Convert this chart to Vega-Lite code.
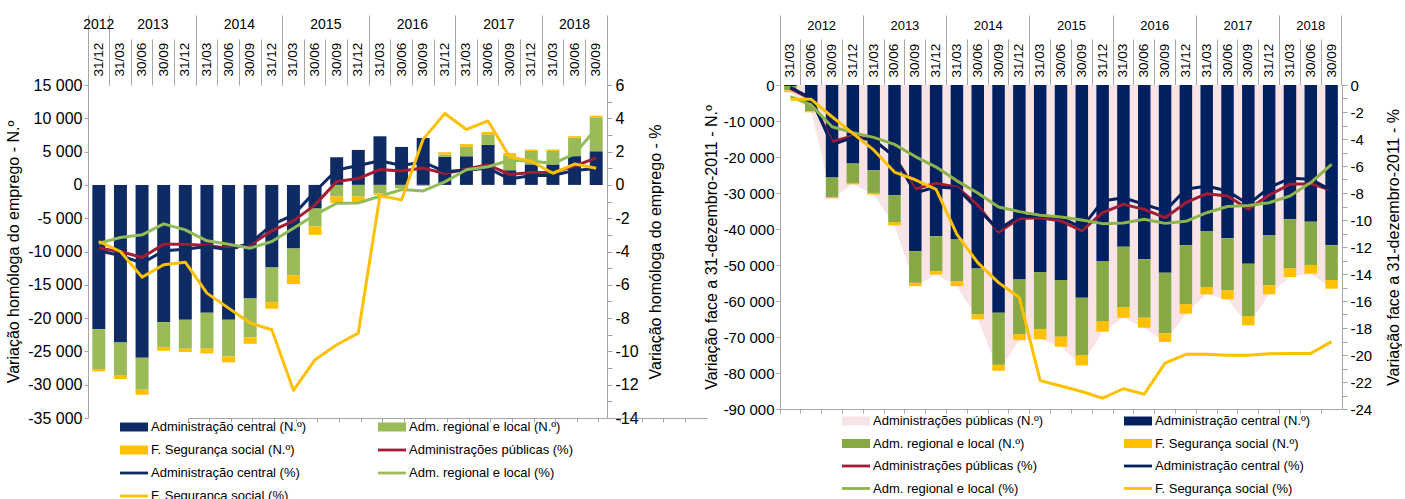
{
  "$schema": "https://vega.github.io/schema/vega-lite/v6.json",
  "background": "#ffffff",
  "padding": {"left": 5, "top": 14, "right": 0, "bottom": 0},
  "columns": 2,
  "align": "each",
  "spacing": -4,
  "datasets": {
    "series": [
      {"k": "ac", "s": "Administração central (N.º)"},
      {"k": "arl", "s": "Adm. regional e local (N.º)"},
      {"k": "fss", "s": "F. Segurança social  (N.º)"}
    ],
    "l": [
      {"q":"2012-12-31","ac":-21650,"arl":-6000,"fss":-350,"ap":-3.8,"acp":-3.96,"arlp":-3.5,"fssp":-3.4},
      {"q":"2013-03-31","ac":-23650,"arl":-5000,"fss":-500,"ap":-4.0,"acp":-4.24,"arlp":-3.16,"fssp":-4.0},
      {"q":"2013-06-30","ac":-25950,"arl":-4800,"fss":-750,"ap":-4.36,"acp":-4.7,"arlp":-3.0,"fssp":-5.54},
      {"q":"2013-09-30","ac":-20600,"arl":-3750,"fss":-550,"ap":-3.56,"acp":-3.96,"arlp":-2.34,"fssp":-4.8},
      {"q":"2013-12-31","ac":-20250,"arl":-4350,"fss":-500,"ap":-3.56,"acp":-3.86,"arlp":-2.7,"fssp":-4.64},
      {"q":"2014-03-31","ac":-19200,"arl":-5400,"fss":-700,"ap":-3.64,"acp":-3.7,"arlp":-3.36,"fssp":-6.5},
      {"q":"2014-06-30","ac":-20250,"arl":-5500,"fss":-900,"ap":-3.8,"acp":-3.9,"arlp":-3.56,"fssp":-7.4},
      {"q":"2014-09-30","ac":-17050,"arl":-5850,"fss":-950,"ap":-3.6,"acp":-3.5,"arlp":-3.8,"fssp":-8.3},
      {"q":"2014-12-31","ac":-12400,"arl":-5200,"fss":-1000,"ap":-2.76,"acp":-2.4,"arlp":-3.4,"fssp":-8.7},
      {"q":"2015-03-31","ac":-9550,"arl":-4000,"fss":-1350,"ap":-2.16,"acp":-1.8,"arlp":-2.6,"fssp":-12.34},
      {"q":"2015-06-30","ac":-3550,"arl":-2700,"fss":-1250,"ap":-1.2,"acp":-0.4,"arlp":-1.8,"fssp":-10.5},
      {"q":"2015-09-30","ac":4150,"arl":-1750,"fss":-950,"ap":0.2,"acp":0.9,"arlp":-1.1,"fssp":-9.6},
      {"q":"2015-12-31","ac":5250,"arl":-1750,"fss":-950,"ap":0.38,"acp":1.17,"arlp":-1.08,"fssp":-8.9},
      {"q":"2016-03-31","ac":7300,"arl":-1250,"fss":-250,"ap":0.93,"acp":1.45,"arlp":-0.68,"fssp":-0.65},
      {"q":"2016-06-30","ac":5700,"arl":-500,"fss":-50,"ap":0.83,"acp":1.17,"arlp":-0.28,"fssp":-0.9},
      {"q":"2016-09-30","ac":7050,"arl":-150,"fss":0,"ap":1.01,"acp":1.37,"arlp":-0.36,"fssp":2.75},
      {"q":"2016-12-31","ac":4200,"arl":350,"fss":350,"ap":0.68,"acp":0.8,"arlp":0.18,"fssp":4.29},
      {"q":"2017-03-31","ac":4300,"arl":1420,"fss":400,"ap":0.96,"acp":0.88,"arlp":0.91,"fssp":3.33},
      {"q":"2017-06-30","ac":6000,"arl":1580,"fss":360,"ap":1.21,"acp":1.01,"arlp":1.09,"fssp":3.84},
      {"q":"2017-09-30","ac":2200,"arl":2250,"fss":350,"ap":0.62,"acp":0.35,"arlp":1.48,"fssp":1.68},
      {"q":"2017-12-31","ac":3080,"arl":2020,"fss":200,"ap":0.74,"acp":0.57,"arlp":1.43,"fssp":1.42},
      {"q":"2018-03-31","ac":3080,"arl":2020,"fss":200,"ap":0.74,"acp":0.57,"arlp":1.28,"fssp":0.7},
      {"q":"2018-06-30","ac":4320,"arl":2800,"fss":200,"ap":1.13,"acp":0.86,"arlp":1.87,"fssp":1.25},
      {"q":"2018-09-30","ac":5050,"arl":5090,"fss":250,"ap":1.62,"acp":0.99,"arlp":3.37,"fssp":1.0}
    ],
    "r": [
      {"q":"2012-03-31","ac":-300,"arl":-1200,"fss":-500,"apn":-2000,"ap":-0.25,"acp":-0.17,"arlp":-0.86,"fssp":-1.06},
      {"q":"2012-06-30","ac":-5000,"arl":-2300,"fss":-300,"apn":-7600,"ap":-1.06,"acp":-0.99,"arlp":-1.48,"fssp":-1.06},
      {"q":"2012-09-30","ac":-25720,"arl":-5380,"fss":-370,"apn":-31470,"ap":-4.2,"acp":-4.44,"arlp":-3.09,"fssp":-2.35},
      {"q":"2012-12-31","ac":-21820,"arl":-5390,"fss":-370,"apn":-27580,"ap":-3.78,"acp":-3.88,"arlp":-3.53,"fssp":-3.58},
      {"q":"2013-03-31","ac":-23680,"arl":-6310,"fss":-460,"apn":-30450,"ap":-4.07,"acp":-4.07,"arlp":-3.88,"fssp":-4.81},
      {"q":"2013-06-30","ac":-30640,"arl":-7420,"fss":-940,"apn":-39000,"ap":-5.3,"acp":-5.3,"arlp":-4.4,"fssp":-6.45},
      {"q":"2013-09-30","ac":-46180,"arl":-8770,"fss":-920,"apn":-55870,"ap":-7.7,"acp":-8.0,"arlp":-5.3,"fssp":-7.02},
      {"q":"2013-12-31","ac":-42030,"arl":-9690,"fss":-920,"apn":-52640,"ap":-7.27,"acp":-7.55,"arlp":-6.08,"fssp":-7.73},
      {"q":"2014-03-31","ac":-42950,"arl":-11530,"fss":-1390,"apn":-55870,"ap":-7.57,"acp":-7.65,"arlp":-7.1,"fssp":-11.06},
      {"q":"2014-06-30","ac":-50980,"arl":-12730,"fss":-1380,"apn":-65090,"ap":-8.9,"acp":-9.2,"arlp":-8.0,"fssp":-13.16},
      {"q":"2014-09-30","ac":-63250,"arl":-14480,"fss":-1660,"apn":-79390,"ap":-10.9,"acp":-10.7,"arlp":-9.04,"fssp":-14.64},
      {"q":"2014-12-31","ac":-54020,"arl":-15220,"fss":-1660,"apn":-70900,"ap":-9.88,"acp":-9.7,"arlp":-9.38,"fssp":-15.75},
      {"q":"2015-03-31","ac":-52000,"arl":-15860,"fss":-2770,"apn":-70630,"ap":-9.83,"acp":-9.7,"arlp":-9.65,"fssp":-21.9},
      {"q":"2015-06-30","ac":-54170,"arl":-15740,"fss":-2780,"apn":-72690,"ap":-10.07,"acp":-9.83,"arlp":-9.77,"fssp":-22.3},
      {"q":"2015-09-30","ac":-59080,"arl":-15920,"fss":-2870,"apn":-77870,"ap":-10.81,"acp":-10.57,"arlp":-10.0,"fssp":-22.7},
      {"q":"2015-12-31","ac":-48890,"arl":-16670,"fss":-2960,"apn":-68520,"ap":-9.46,"acp":-8.59,"arlp":-10.27,"fssp":-23.2},
      {"q":"2016-03-31","ac":-44910,"arl":-16760,"fss":-2960,"apn":-64630,"ap":-8.84,"acp":-8.35,"arlp":-10.22,"fssp":-22.5},
      {"q":"2016-06-30","ac":-48430,"arl":-16200,"fss":-2780,"apn":-67410,"ap":-9.21,"acp":-8.84,"arlp":-9.95,"fssp":-22.9},
      {"q":"2016-09-30","ac":-52130,"arl":-16870,"fss":-2400,"apn":-71400,"ap":-9.83,"acp":-9.33,"arlp":-10.25,"fssp":-20.6},
      {"q":"2016-12-31","ac":-44540,"arl":-16390,"fss":-2590,"apn":-63520,"ap":-8.72,"acp":-7.73,"arlp":-10.1,"fssp":-19.95},
      {"q":"2017-03-31","ac":-40560,"arl":-15550,"fss":-2040,"apn":-58150,"ap":-8.05,"acp":-7.48,"arlp":-9.46,"fssp":-19.95},
      {"q":"2017-06-30","ac":-42590,"arl":-14450,"fss":-2500,"apn":-59540,"ap":-8.22,"acp":-7.85,"arlp":-9.0,"fssp":-20.02},
      {"q":"2017-09-30","ac":-49630,"arl":-14540,"fss":-2590,"apn":-66760,"ap":-9.21,"acp":-8.84,"arlp":-8.93,"fssp":-20.02},
      {"q":"2017-12-31","ac":-41670,"arl":-13980,"fss":-2500,"apn":-58150,"ap":-8.15,"acp":-7.6,"arlp":-8.72,"fssp":-19.9},
      {"q":"2018-03-31","ac":-37310,"arl":-13620,"fss":-2410,"apn":-53340,"ap":-7.36,"acp":-6.91,"arlp":-8.22,"fssp":-19.88},
      {"q":"2018-06-30","ac":-37960,"arl":-12030,"fss":-2410,"apn":-52400,"ap":-7.31,"acp":-6.99,"arlp":-7.23,"fssp":-19.88},
      {"q":"2018-09-30","ac":-44540,"arl":-9630,"fss":-2410,"apn":-56580,"ap":-7.8,"acp":-7.8,"arlp":-5.88,"fssp":-19.01}
    ]
  },
  "concat": [
    {
      "width": 519,
      "height": 333,
      "data": {"name": "l"},
      "resolve": {"scale": {"y": "independent"}, "axis": {"x": "independent", "y": "independent"}},
      "layer": [
        {
          "transform": [
            {"fold": ["ac", "arl", "fss"], "as": ["k", "v"]},
            {"lookup": "k", "from": {"data": {"name": "series"}, "key": "k", "fields": ["s"]}}
          ],
          "mark": {"type": "bar", "width": {"band": 0.6}},
          "encoding": {
            "x": {"field": "q", "type": "nominal", "scale": {"paddingInner": 0, "paddingOuter": 0},
              "axis": {"orient": "top", "title": null, "domain": false, "bandPosition": 0, "ticks": true, "tickSize": 46, "labelAngle": 270, "labelAlign": "left", "labelBaseline": "middle", "labelPadding": -37, "labelFontSize": 13.5, "labelBound": false, "labelFlush": false,
                "labelExpr": "substring(datum.value, 8, 10) + '/' + substring(datum.value, 5, 7)"}},
            "y": {"field": "v", "type": "quantitative", "stack": "zero", "scale": {"domain": [-35000, 15000], "nice": false, "zero": false},
              "axis": {"orient": "left", "title": "Variação homóloga do emprego - N.º", "values": [-35000, -30000, -25000, -20000, -15000, -10000, -5000, 0, 5000, 10000, 15000], "format": ",.0f", "labelFontSize": 16, "titleFontSize": 16, "tickSize": 4, "labelPadding": 2, "titlePadding": 6}},
            "fill": {"field": "s", "type": "nominal",
              "scale": {"domain": ["Administração central (N.º)", "Adm. regional e local (N.º)", "F. Segurança social  (N.º)", "Administrações públicas (%)", "Administração central  (%)", "Adm. regional e local (%)", "F. Segurança social  (%)"],
                        "range": ["#0F2B64", "#9BBB59", "#FFC000", "#A11D35", "#0F2B64", "#9BBB59", "#FFC000"]},
              "legend": {"orient": "none", "legendX": 32, "legendY": 328, "direction": "horizontal", "columns": 2, "title": null, "symbolSize": 784, "labelFontSize": 13, "labelOffset": 3, "columnPadding": 71, "rowPadding": 2, "labelLimit": 400,
                "encode": {"symbols": {"update": {"shape": {"signal": "indexof(datum.value, '(%)') >= 0 ? 'M-1,-0.1H1V0.1H-1Z' : 'M-1,-0.32H1V0.32H-1Z'"}, "strokeWidth": {"value": 0}}}}}},
            "order": {"field": "k", "type": "ordinal", "sort": "ascending"}
          }
        },
        {
          "mark": {"type": "line", "color": "#A11D35", "strokeWidth": 3, "strokeJoin": "round"},
          "encoding": {
            "x": {"field": "q", "type": "nominal",
              "axis": {"orient": "top", "title": null, "domain": false, "bandPosition": 0, "values": ["2012-12-31", "2013-03-31", "2014-03-31", "2015-03-31", "2016-03-31", "2017-03-31", "2018-03-31"], "tickSize": 70, "labels": false}},
            "y": {"field": "ap", "type": "quantitative", "scale": {"domain": [-14, 6], "nice": false, "zero": false},
              "axis": {"orient": "right", "title": "Variação homóloga do emprego - %", "titleAngle": 270, "titleBaseline": "top", "values": [-14, -13, -12, -11, -10, -9, -8, -7, -6, -5, -4, -3, -2, -1, 0, 1, 2, 3, 4, 5, 6], "labelExpr": "datum.value % 2 === 0 ? datum.label : ''", "labelFontSize": 16, "titleFontSize": 16, "tickSize": 5, "labelPadding": 3, "titlePadding": 9}}
          }
        },
        {
          "mark": {"type": "line", "color": "#0F2B64", "strokeWidth": 3, "strokeJoin": "round"},
          "encoding": {
            "x": {"field": "q", "type": "nominal", "axis": {"orient": "top", "title": null, "domain": false, "bandPosition": 1, "values": ["2018-09-30"], "tickSize": 70, "labels": false}},
            "y": {"field": "acp", "type": "quantitative", "scale": {"domain": [-14, 6], "nice": false, "zero": false}, "axis": null}
          }
        },
        {
          "mark": {"type": "line", "color": "#92BC58", "strokeWidth": 3, "strokeJoin": "round"},
          "encoding": {
            "x": {"field": "q", "type": "nominal", "axis": {"orient": "bottom", "title": null, "domain": true, "position": 100, "bandPosition": 0, "tickSize": 4, "labels": false}},
            "y": {"field": "arlp", "type": "quantitative", "scale": {"domain": [-14, 6], "nice": false, "zero": false}, "axis": null}
          }
        },
        {
          "mark": {"type": "line", "color": "#FFC000", "strokeWidth": 3, "strokeJoin": "round"},
          "encoding": {
            "x": {"field": "q", "type": "nominal",
              "axis": {"orient": "top", "title": null, "domain": false, "values": ["2012-12-31", "2013-06-30", "2014-06-30", "2015-06-30", "2016-06-30", "2017-06-30", "2018-06-30"], "ticks": true, "tickOpacity": 0, "tickSize": 70, "labelAngle": 0, "labelAlign": "center", "labelBaseline": "alphabetic", "labelPadding": -13, "labelFontSize": 14, "labelBound": false, "labelFlush": false,
                "labelExpr": "substring(datum.value, 0, 4)",
                "labelOffset": {"condition": {"test": "datum.value === '2012-12-31' || datum.value === '2018-06-30'", "value": 0}, "value": 10.8}}},
            "y": {"field": "fssp", "type": "quantitative", "scale": {"domain": [-14, 6], "nice": false, "zero": false}, "axis": null}
          }
        }
      ]
    },
    {
      "width": 562,
      "height": 324,
      "data": {"name": "r"},
      "resolve": {"scale": {"y": "independent"}, "axis": {"x": "independent", "y": "independent"}},
      "layer": [
        {
          "mark": {"type": "area", "color": "#F8E4E4"},
          "encoding": {
            "x": {"field": "q", "type": "nominal",
              "axis": {"orient": "top", "title": null, "domain": false, "bandPosition": 0, "ticks": true, "tickSize": 46, "labelAngle": 270, "labelAlign": "left", "labelBaseline": "middle", "labelPadding": -38, "labelFontSize": 13.5, "labelBound": false, "labelFlush": false,
                "labelExpr": "substring(datum.value, 8, 10) + '/' + substring(datum.value, 5, 7)"}},
            "y": {"field": "apn", "type": "quantitative", "scale": {"domain": [-90000, 0], "nice": false, "zero": false},
              "axis": {"orient": "left", "title": "Variação  face a 31-dezembro-2011 - N.º", "values": [-90000, -80000, -70000, -60000, -50000, -40000, -30000, -20000, -10000, 0], "format": ",.0f", "labelFontSize": 15, "titleFontSize": 16, "tickSize": 4, "labelPadding": 2, "titlePadding": 4}},
            "y2": {"datum": 0}
          }
        },
        {
          "transform": [
            {"fold": ["ac", "arl", "fss"], "as": ["k", "v"]},
            {"lookup": "k", "from": {"data": {"name": "series"}, "key": "k", "fields": ["s"]}}
          ],
          "mark": {"type": "bar", "width": {"band": 0.6}},
          "encoding": {
            "x": {"field": "q", "type": "nominal", "scale": {"paddingInner": 0, "paddingOuter": 0},
              "axis": {"orient": "top", "title": null, "domain": false, "bandPosition": 0, "values": ["2012-03-31", "2013-03-31", "2014-03-31", "2015-03-31", "2016-03-31", "2017-03-31", "2018-03-31"], "tickSize": 70, "labels": false}},
            "y": {"field": "v", "type": "quantitative", "stack": "zero", "scale": {"domain": [-90000, 0], "nice": false, "zero": false}, "axis": null},
            "fill": {"field": "s", "type": "nominal",
              "scale": {"domain": ["Administrações públicas (N.º)", "Administração central (N.º)", "Adm. regional e local (N.º)", "F. Segurança social  (N.º)", "Administrações públicas (%)", "Administração central  (%)", "Adm. regional e local (%)", "F. Segurança social  (%)"],
                        "range": ["#F8E4E4", "#002060", "#86A845", "#FFC000", "#A11D35", "#002060", "#8DB44A", "#FFC000"]},
              "legend": {"orient": "none", "legendX": 62, "legendY": 322, "direction": "horizontal", "columns": 2, "title": null, "symbolSize": 784, "labelFontSize": 13, "labelOffset": 3, "columnPadding": 80, "rowPadding": 1.5, "labelLimit": 400,
                "encode": {"symbols": {"update": {"shape": {"signal": "indexof(datum.value, '(%)') >= 0 ? 'M-1,-0.1H1V0.1H-1Z' : 'M-1,-0.32H1V0.32H-1Z'"}, "strokeWidth": {"value": 0}}}}}},
            "order": {"field": "k", "type": "ordinal", "sort": "ascending"}
          }
        },
        {
          "mark": {"type": "line", "color": "#A11D35", "strokeWidth": 3, "strokeJoin": "round"},
          "encoding": {
            "x": {"field": "q", "type": "nominal", "axis": {"orient": "top", "title": null, "domain": false, "bandPosition": 1, "values": ["2018-09-30"], "tickSize": 70, "labels": false}},
            "y": {"field": "ap", "type": "quantitative", "scale": {"domain": [-24, 0], "nice": false, "zero": false},
              "axis": {"orient": "right", "title": "Variação face a 31-dezembro-2011 - %", "titleAngle": 270, "titleBaseline": "top", "values": [-24, -23, -22, -21, -20, -19, -18, -17, -16, -15, -14, -13, -12, -11, -10, -9, -8, -7, -6, -5, -4, -3, -2, -1, 0], "labelExpr": "datum.value % 2 === 0 ? datum.label : ''", "labelFontSize": 15, "titleFontSize": 16, "tickSize": 5, "labelPadding": 3, "titlePadding": 14}}
          }
        },
        {
          "mark": {"type": "line", "color": "#002060", "strokeWidth": 3, "strokeJoin": "round"},
          "encoding": {
            "x": {"field": "q", "type": "nominal", "axis": {"orient": "bottom", "title": null, "domain": true, "position": 0, "bandPosition": 0, "tickSize": 4, "labels": false}},
            "y": {"field": "acp", "type": "quantitative", "scale": {"domain": [-24, 0], "nice": false, "zero": false}, "axis": null}
          }
        },
        {
          "mark": {"type": "line", "color": "#8DB44A", "strokeWidth": 3, "strokeJoin": "round"},
          "encoding": {
            "x": {"field": "q", "type": "nominal",
              "axis": {"orient": "top", "title": null, "domain": false, "values": ["2012-06-30", "2013-06-30", "2014-06-30", "2015-06-30", "2016-06-30", "2017-06-30", "2018-06-30"], "ticks": true, "tickOpacity": 0, "tickSize": 70, "labelAngle": 0, "labelAlign": "center", "labelBaseline": "alphabetic", "labelPadding": -14, "labelFontSize": 13, "labelBound": false, "labelFlush": false,
                "labelExpr": "substring(datum.value, 0, 4)",
                "labelOffset": {"condition": {"test": "datum.value === '2018-06-30'", "value": 0}, "value": 10.4}}},
            "y": {"field": "arlp", "type": "quantitative", "scale": {"domain": [-24, 0], "nice": false, "zero": false}, "axis": null}
          }
        },
        {
          "mark": {"type": "line", "color": "#FFC000", "strokeWidth": 3, "strokeJoin": "round"},
          "encoding": {
            "x": {"field": "q", "type": "nominal", "axis": null},
            "y": {"field": "fssp", "type": "quantitative", "scale": {"domain": [-24, 0], "nice": false, "zero": false}, "axis": null}
          }
        }
      ]
    }
  ],
  "resolve": {"scale": {"x": "independent", "y": "independent", "fill": "independent"}, "legend": {"fill": "independent"}},
  "config": {
    "locale": {"number": {"decimal": ",", "thousands": " ", "grouping": [3], "currency": ["", " €"], "minus": "-"}},
    "view": {"stroke": null},
    "font": "Liberation Sans",
    "axis": {"labelFont": "Liberation Sans", "titleFont": "Liberation Sans", "labelColor": "#000000", "titleColor": "#000000", "titleFontWeight": "normal", "domainColor": "#A6A6A6", "tickColor": "#A6A6A6", "grid": false, "labelOverlap": false},
    "legend": {"labelFont": "Liberation Sans", "labelColor": "#000000"}
  }
}
